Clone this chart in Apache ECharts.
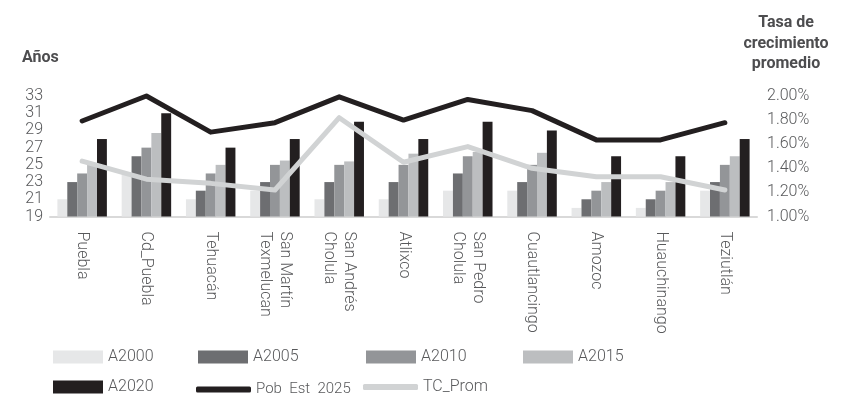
<!DOCTYPE html>
<html>
<head>
<meta charset="utf-8">
<script src="https://cdn.jsdelivr.net/npm/echarts@6/dist/echarts.min.js"></script>
<style>html,body{margin:0;padding:0;background:#fff}#c{width:850px;height:398px}</style>
</head>
<body>
<div id="c"></div>
<script>
const categories = ['Puebla','Cd_Puebla','Tehuacán','San Martín\nTexmelucan','San Andrés\nCholula','Atlixco','San Pedro\nCholula','Cuautlancingo','Amozoc','Huauchinango','Teziutlán'];
const A2000 = [21,24,21,22,21,21,22,22,20,20,22];
const A2005 = [23,26,22,23,23,23,24,23,21,21,23];
const A2010 = [24,27,24,25,25,25,26,25,22,22,25];
const A2015 = [25,28.7,25,25.5,25.4,26.3,26.5,26.4,23,23,26];
const A2020 = [28,31,27,28,30,28,30,29,26,26,28];
const PobEst2025 = [30.1,33,28.8,29.9,32.9,30.2,32.6,31.3,27.9,27.9,29.9];
const TC_Prom = [1.46,1.31,1.275,1.22,1.82,1.45,1.58,1.40,1.33,1.33,1.22];

const FONT = 'Roboto';
const TXT = '#58595b';
const chart = echarts.init(document.getElementById('c'), null, {renderer:'canvas'});

function barSeries(name, data, color){
  return {name, type:'bar', data, yAxisIndex:0, itemStyle:{color}, barGap:'0%', barCategoryGap:'23%'};
}
function legendItem(name, left, top, isLine, fs){
  return {
    data:[name], left, top, padding:0, orient:'horizontal',
    icon: isLine ? 'roundRect' : 'rect',
    itemWidth: isLine ? 55 : 50, itemHeight: isLine ? 6 : 13, itemGap: 5,
    textStyle:{fontFamily:FONT, fontSize:fs || 16, fontWeight:300, color:TXT}
  };
}

chart.setOption({
  animation:false,
  backgroundColor:'#fff',
  textStyle:{fontFamily:FONT},
  grid:{left:50, right:93, top:96, bottom:181.5, containLabel:false},
  graphic:[
    {type:'text', x:22, y:50, style:{text:'Años', font:'bold 16px Roboto', fill:'#4d4d4f'}},
    {type:'text', x:786, y:13, style:{text:'Tasa de\ncrecimiento\npromedio', font:'bold 16px Roboto', fill:'#4d4d4f', textAlign:'center', lineHeight:20.5}}
  ],
  legend:[
    legendItem('A2000', 53, 349, false),
    legendItem('A2005', 198, 349, false),
    legendItem('A2010', 366, 349, false),
    legendItem('A2015', 523, 349, false),
    legendItem('A2020', 53, 379, false),
    legendItem('Pob  Est  2025', 196, 382, true, 15),
    legendItem('TC_Prom', 363, 379, true)
  ],
  xAxis:{
    type:'category', data:categories,
    axisLine:{show:true, lineStyle:{color:'#d9d9d9', width:2}},
    axisTick:{show:false},
    axisLabel:{rotate:-90, margin:15, interval:0, fontFamily:FONT, fontSize:16, fontWeight:300, color:TXT, lineHeight:20}
  },
  yAxis:[
    {type:'value', min:19, max:33, interval:2, position:'left',
     axisLine:{show:false}, axisTick:{show:false}, splitLine:{show:false},
     axisLabel:{margin:7, fontFamily:FONT, fontSize:16, fontWeight:300, color:TXT}},
    {type:'value', min:1.0, max:2.0, interval:0.2, position:'right',
     axisLine:{show:false}, axisTick:{show:false}, splitLine:{show:false},
     axisLabel:{margin:10, fontFamily:FONT, fontSize:16, fontWeight:300, color:TXT,
       formatter:v=>v.toFixed(2)+'%'}}
  ],
  series:[
    barSeries('A2000', A2000, '#e6e7e8'),
    barSeries('A2005', A2005, '#6d6e71'),
    barSeries('A2010', A2010, '#939598'),
    barSeries('A2015', A2015, '#bcbec0'),
    barSeries('A2020', A2020, '#231f20'),
    {name:'Pob  Est  2025', type:'line', yAxisIndex:0, data:PobEst2025, symbol:'none', clip:false,
     itemStyle:{color:'#231f20'}, lineStyle:{color:'#231f20', width:5, cap:'round', join:'round'}},
    {name:'TC_Prom', type:'line', yAxisIndex:1, data:TC_Prom, symbol:'none', clip:false,
     itemStyle:{color:'#d1d3d4'}, lineStyle:{color:'#d1d3d4', width:5, cap:'round', join:'round'}}
  ]
});
</script>
</body>
</html>
